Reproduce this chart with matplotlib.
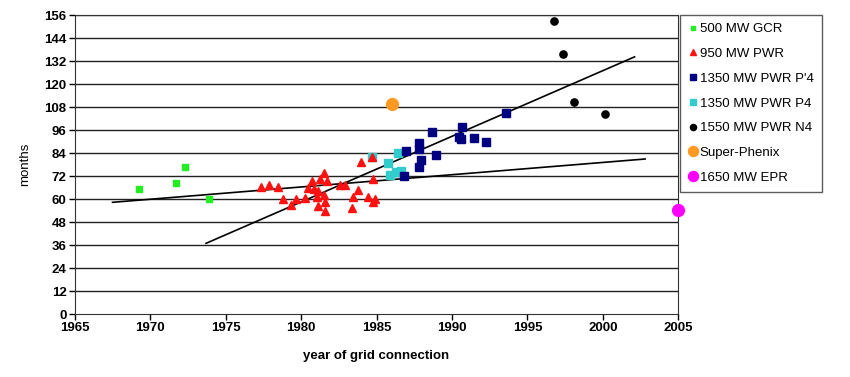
import matplotlib
matplotlib.use("Agg")
import matplotlib.pyplot as plt

plt.rcParams['font.family'] = ['Liberation Sans', 'DejaVu Sans']

# 500 MW GCR
gcr_year = [1969.25, 1971.7, 1972.3, 1973.9]
gcr_months = [65.2, 68.5, 76.8, 59.8]

# 950 MW PWR
pwr_year = [1977.34, 1977.87, 1978.45, 1978.80, 1979.31, 1979.64, 1980.26, 1980.44,
            1980.72, 1980.85, 1981.12, 1981.23, 1981.54, 1981.74, 1981.03, 1981.54,
            1981.56, 1981.14, 1981.56, 1982.58, 1982.93, 1983.75, 1983.46, 1983.35,
            1983.95, 1984.46, 1984.79, 1984.75, 1984.88, 1984.70]
pwr_months = [66.4, 67.3, 66.2, 59.8, 56.9, 59.8, 60.7, 65.9,
              69.5, 65.2, 64.3, 70.6, 73.4, 69.5, 60.9, 62.1,
              58.6, 56.3, 53.9, 67.3, 67.1, 64.7, 61.0, 55.1,
              79.3, 61.0, 70.3, 58.6, 59.8, 81.7]

# 1350 MW PWR P'4
p4b_year = [1986.96, 1987.84, 1987.80, 1987.95, 1987.84, 1988.66, 1988.97, 1990.65,
            1990.49, 1990.59, 1991.45, 1992.26, 1993.59, 1986.84]
p4b_months = [85.0, 89.0, 85.9, 80.3, 76.8, 95.1, 82.9, 97.4,
              92.2, 91.1, 92.0, 89.9, 104.7, 72.0]

# 1350 MW PWR P4
p4_year = [1984.70, 1985.74, 1985.9, 1986.3, 1986.65, 1986.45]
p4_months = [81.7, 78.9, 72.5, 74.0, 74.5, 84.1]

# 1550 MW PWR N4
n4_year = [1996.79, 1997.39, 1998.10, 2000.11]
n4_months = [152.7, 135.8, 110.4, 104.5]

# Super-Phenix
sp_year = [1986.05]
sp_months = [109.4]

# 1650 MW EPR
epr_year = [2005.0]
epr_months = [54.3]

# trend lines (end points)
trend1_year = [1967.5, 2002.8]
trend1_months = [58.3, 80.9]
trend2_year = [1973.7, 2002.1]
trend2_months = [36.9, 134.2]

fig = plt.figure(figsize=(8.5, 3.77), dpi=100)
ax = fig.add_axes([0.088, 0.167, 0.71, 0.793])

for yv in range(12, 157, 12):
    ax.axhline(yv, color='#222222', lw=1.0, zorder=1)

ax.plot(trend1_year, trend1_months, color='black', lw=1.2, zorder=2)
ax.plot(trend2_year, trend2_months, color='black', lw=1.2, zorder=2)

ax.plot(gcr_year, gcr_months, ls='none', marker='s', ms=4.2, color='#22ee22', label='500 MW GCR', zorder=3)
ax.plot(p4_year, p4_months, ls='none', marker='s', ms=5.8, color='#33cccc', label='1350 MW PWR P4', zorder=3)
ax.plot(pwr_year, pwr_months, ls='none', marker='^', ms=5.2, color='#ff1111', label='950 MW PWR', zorder=4)
ax.plot(p4b_year, p4b_months, ls='none', marker='s', ms=5.8, color='#000080', label="1350 MW PWR P'4", zorder=3)
ax.plot(n4_year, n4_months, ls='none', marker='o', ms=5.2, color='black', label='1550 MW PWR N4', zorder=3)
ax.plot(sp_year, sp_months, ls='none', marker='o', ms=8.5, color='#ff9922', label='Super-Phenix', zorder=3)
ax.plot(epr_year, epr_months, ls='none', marker='o', ms=8.5, color='#ff00ff', label='1650 MW EPR', zorder=5,
        clip_on=False)

ax.set_xlim(1965, 2005)
ax.set_ylim(0, 156)
ax.set_xticks(range(1965, 2006, 5))
ax.set_yticks(range(0, 157, 12))
ax.tick_params(direction='out', length=4, width=1, labelsize=9.5, pad=2)
for lab in ax.get_xticklabels() + ax.get_yticklabels():
    lab.set_fontweight('bold')
for sp in ax.spines.values():
    sp.set_color('#333333')
ax.set_xlabel('year of grid connection', fontsize=9.5, fontweight='bold', labelpad=11)
ax.set_ylabel('months', fontsize=9.5, labelpad=9)

handles, labels = ax.get_legend_handles_labels()
order = ['500 MW GCR', '950 MW PWR', "1350 MW PWR P'4", '1350 MW PWR P4',
         '1550 MW PWR N4', 'Super-Phenix', '1650 MW EPR']
hmap = dict(zip(labels, handles))
leg = fig.legend([hmap[k] for k in order], order, loc='upper left',
                 bbox_to_anchor=(0.8, 0.96), borderaxespad=0, fontsize=9.5,
                 frameon=True, fancybox=False, edgecolor='#333333',
                 handletextpad=0.2, handlelength=0.7, labelspacing=0.95,
                 borderpad=0.6, markerscale=0.85)
leg.get_frame().set_linewidth(1.0)

fig.savefig('out.png', dpi=100)
